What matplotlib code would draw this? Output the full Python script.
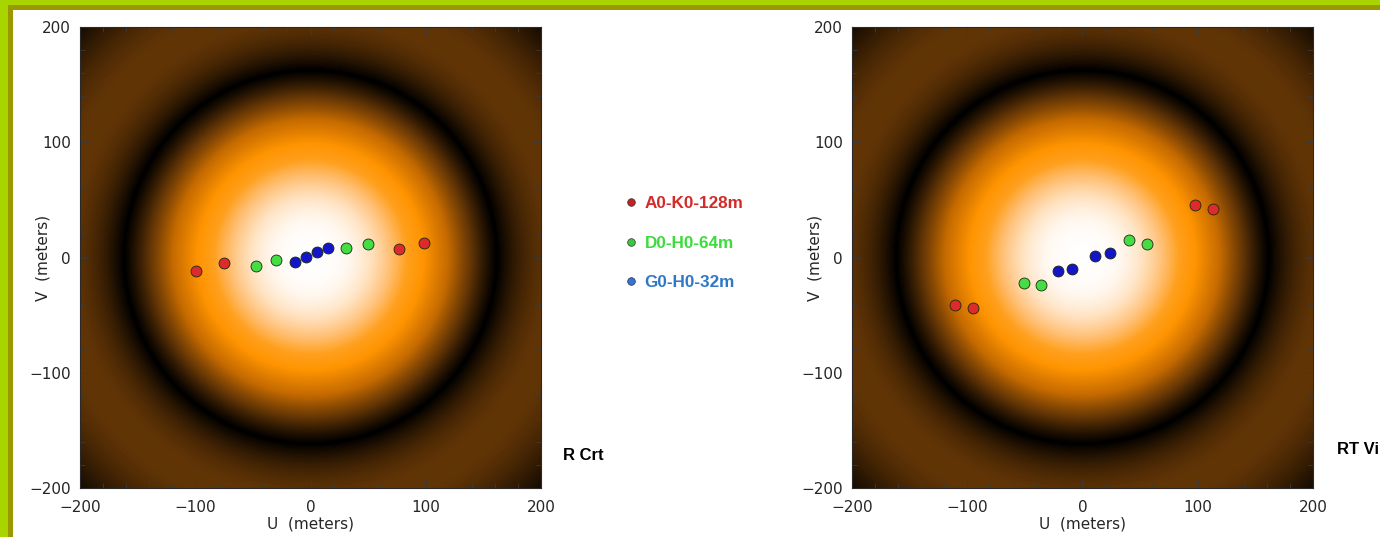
import numpy as np
import matplotlib
matplotlib.use("Agg")
import matplotlib.pyplot as plt
from matplotlib.colors import LinearSegmentedColormap, Normalize
from matplotlib.lines import Line2D
from matplotlib.patches import Rectangle
from matplotlib.ticker import MultipleLocator

# ---------------------------------------------------------------------------
# Baseline (u, v) points, metres
# ---------------------------------------------------------------------------
BASELINES = ["A0-K0-128m", "D0-H0-64m", "G0-H0-32m"]

# left panel ("R Crt")
crt_u_ak = [-99, -75, 77, 98.5]
crt_v_ak = [-12, -5, 7, 13]
crt_u_dh = [-47, -30, 30.5, 50]
crt_v_dh = [-7, -2, 8, 12]
crt_u_gh = [-13.5, -3.5, 6, 15.5]
crt_v_gh = [-3.5, 0.5, 4.5, 8]

# right panel ("RT Vi")
vis_u_ak = [-111, -95, 98, 113]
vis_v_ak = [-41, -44, 46, 42]
vis_u_dh = [-51, -36, 40, 56]
vis_v_dh = [-22, -24, 15, 12]
vis_u_gh = [-21, -9.5, 11, 23.5]
vis_v_gh = [-12, -10, 1.5, 4]

PANEL_TAGS = ["R Crt", "RT Vi"]

# uniform-disk visibility model behind the points: first null radius in metres
FIRST_NULL_M = 162.0
J1_FIRST_ZERO = 3.8317

MARK_COLORS = ["#dd2b2b", "#46dc46", "#1414c8"]
LEGEND_MARK = ["#c82020", "#3cc83c", "#3a72d0"]
LEGEND_TEXT = ["#d42a2a", "#3cdc3c", "#2f78c8"]
LIME, OLIVE = "#a8d400", "#9a9a00"


def bessel_j1(x):
    # J1(x) = 1/pi * integral_0^pi cos(t - x sin t) dt
    t = np.linspace(0, np.pi, 401)
    return np.trapezoid(np.cos(t[None, :] - x[:, None] * np.sin(t[None, :])), t, axis=1) / np.pi


def disk_visibility(n=500):
    r1 = np.linspace(1e-6, 300, 3000)
    x = J1_FIRST_ZERO * r1 / FIRST_NULL_M
    vis1 = np.abs(2 * bessel_j1(x) / x)
    g = np.linspace(-200, 200, n)
    uu, vv = np.meshgrid(g, g)
    return np.interp(np.hypot(uu, vv), r1, vis1)


# colour table on |V|: null -> black, lobes -> brown / orange, peak -> white
nodes = [
    (0.0, (0, 0, 0)),
    (0.13, (98, 53, 6)),
    (0.28, (196, 106, 0)),
    (0.46, (255, 148, 0)),
    (0.58, (255, 160, 30)),
    (0.70, (255, 192, 118)),
    (0.83, (255, 228, 196)),
    (0.93, (255, 248, 240)),
    (1.0, (255, 255, 255)),
]
cmap = LinearSegmentedColormap.from_list(
    "uvmap", [(v, tuple(c / 255 for c in rgb)) for v, rgb in nodes])

plt.rcParams.update({"font.family": "DejaVu Sans", "font.size": 11})

fig = plt.figure(figsize=(13.8, 5.37), dpi=100, facecolor="white")

# green frame along top and left edge
W, H = 1380, 537
for (x0, y0, w, h), c in [((0, H - 10, W, 10), OLIVE), ((0, 0, 13, H), OLIVE),
                          ((0, H - 5, W, 5), LIME), ((0, 0, 8, H), LIME)]:
    fig.add_artist(Rectangle((x0 / W, y0 / H), w / W, h / H, transform=fig.transFigure,
                             facecolor=c, edgecolor="none", zorder=-1))

vis = disk_visibility()

panels = [
    (0.058, [(crt_u_ak, crt_v_ak), (crt_u_dh, crt_v_dh), (crt_u_gh, crt_v_gh)]),
    (0.6174, [(vis_u_ak, vis_v_ak), (vis_u_dh, vis_v_dh), (vis_u_gh, vis_v_gh)]),
]

for left, series in panels:
    ax = fig.add_axes([left, 0.0912, 0.334, 0.8585])
    ax.imshow(vis, extent=[-200, 200, -200, 200], origin="lower", cmap=cmap,
              norm=Normalize(0, 1), aspect="auto", interpolation="bilinear")
    for (u, v), c in zip(series, MARK_COLORS):
        ax.scatter(u, v, s=62, color=c, edgecolors="#1a2a10", linewidths=0.6, zorder=3)
    ax.set_xlim(-200, 200)
    ax.set_ylim(-200, 200)
    ax.set_xticks([-200, -100, 0, 100, 200])
    ax.set_yticks([-200, -100, 0, 100, 200])
    ax.xaxis.set_minor_locator(MultipleLocator(20))
    ax.yaxis.set_minor_locator(MultipleLocator(20))
    ax.tick_params(which="both", direction="in", top=True, right=True, color="#3a3a3a",
                   labelcolor="#262626", labelsize=11)
    ax.tick_params(which="major", length=6, width=0.7)
    ax.tick_params(which="minor", length=3.5, width=0.6)
    ax.tick_params(axis="x", pad=8.5)
    ax.tick_params(axis="y", pad=6.5)
    for s in ax.spines.values():
        s.set_color("#2a2a2a")
        s.set_linewidth(0.8)
    ax.set_xlabel("U  (meters)", fontsize=11, color="#262626", va="center")
    ax.set_ylabel("V  (meters)", fontsize=11, color="#262626", va="center")
    ax.xaxis.set_label_coords(0.5, -0.078)
    ax.yaxis.set_label_coords(-0.080, 0.5)

# panel tags
fig.text(563 / W, 1 - 455 / H, PANEL_TAGS[0], fontsize=12, fontweight="bold",
         family="Liberation Sans", va="center", ha="left")
fig.text(1337 / W, 1 - 449 / H, PANEL_TAGS[1], fontsize=12, fontweight="bold",
         family="Liberation Sans", va="center", ha="left")

# baseline legend between the panels
handles = [Line2D([], [], linestyle="none", marker="o", markersize=5.5, color=c,
                  markeredgecolor="#303030", markeredgewidth=0.5) for c in LEGEND_MARK]
leg = fig.legend(handles, BASELINES, loc="center left", bbox_to_anchor=(625 / W, 1 - 243 / H),
                 frameon=False, borderpad=0, borderaxespad=0, handlelength=0.7,
                 handletextpad=0.45, labelspacing=1.42,
                 prop={"family": "Liberation Sans", "weight": "bold", "size": 12.3})
for txt, c in zip(leg.get_texts(), LEGEND_TEXT):
    txt.set_color(c)

fig.savefig("out.png", dpi=100, facecolor="white")
